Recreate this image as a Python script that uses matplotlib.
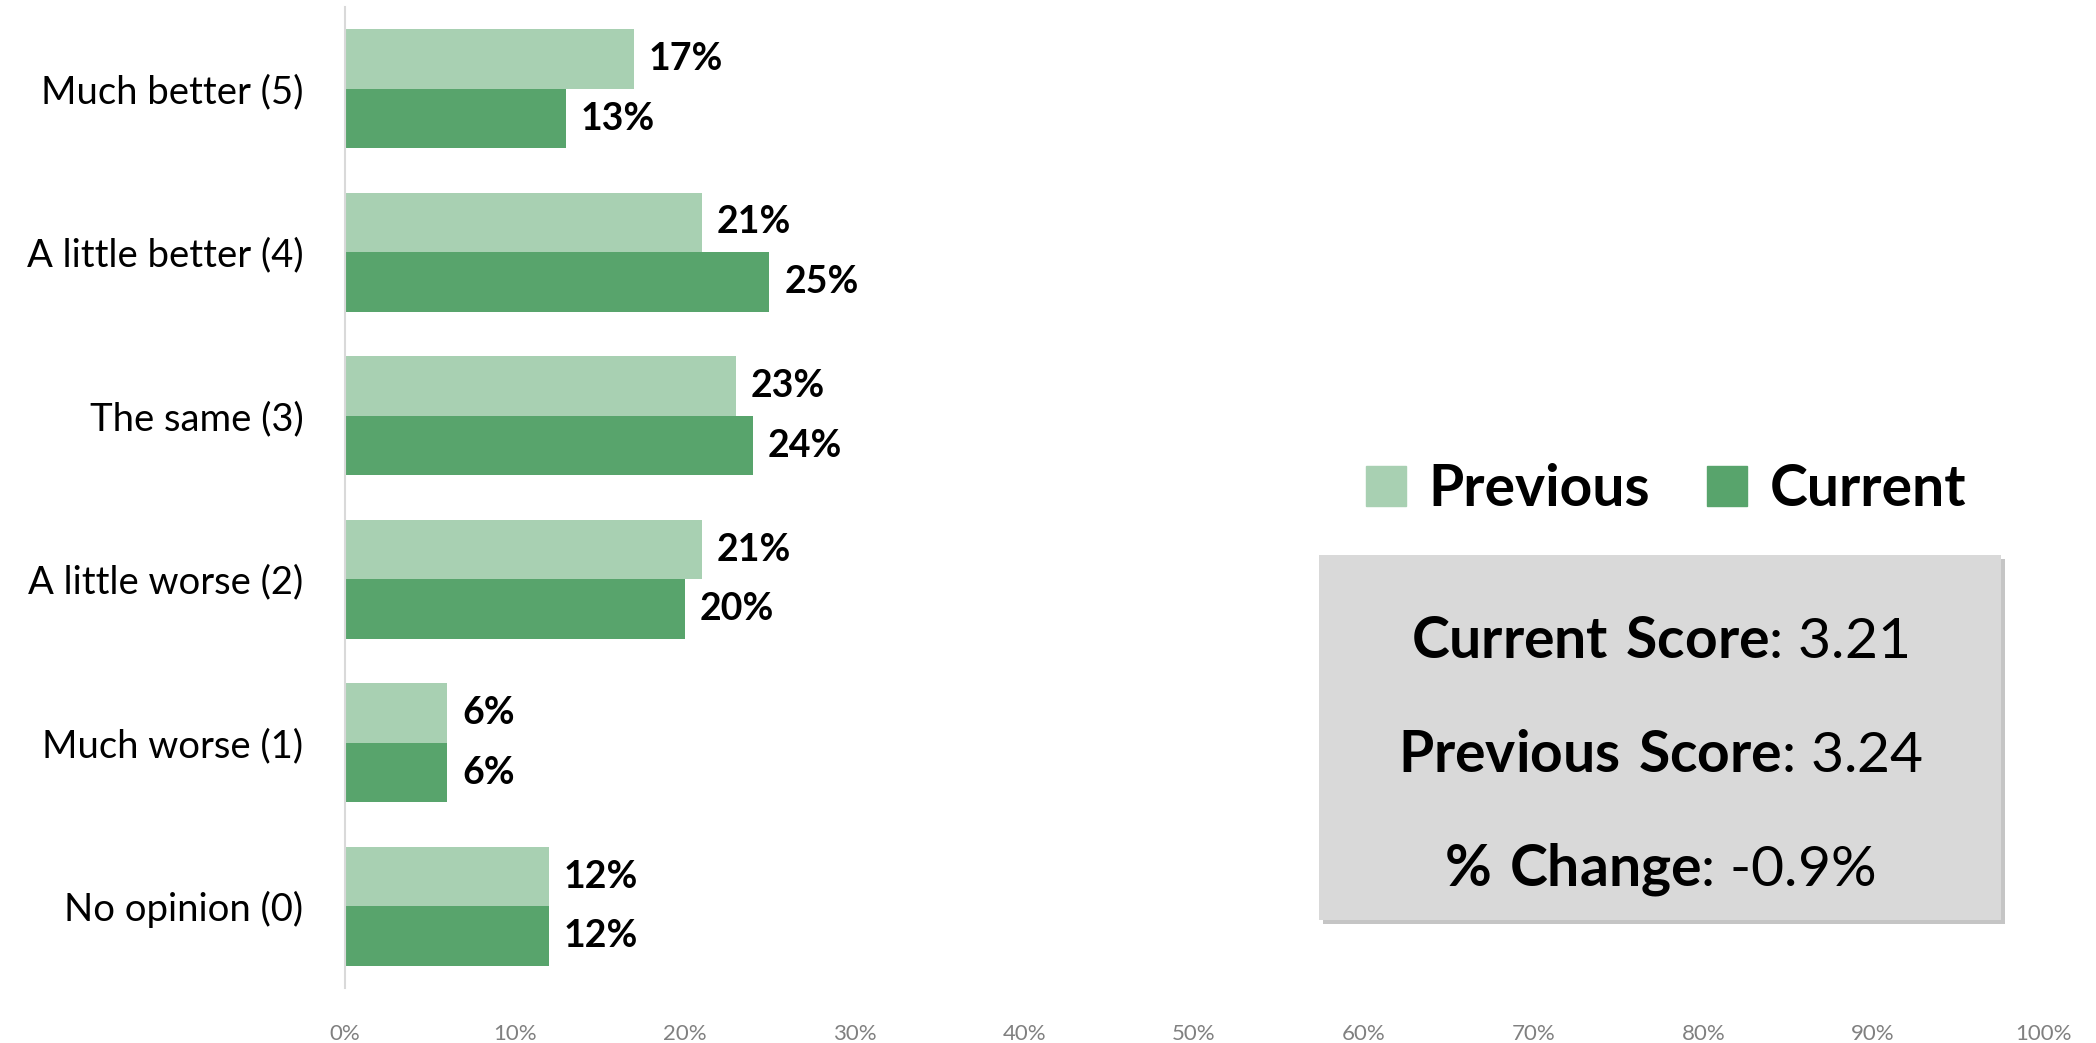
import matplotlib
matplotlib.use("Agg")
import matplotlib.pyplot as plt
import matplotlib.patheffects as pe
from matplotlib.patches import Rectangle, Patch
import numpy as np

plt.rcParams['font.family'] = ['Lato', 'DejaVu Sans']
plt.rcParams['mathtext.fontset'] = 'custom'
plt.rcParams['mathtext.rm'] = 'Lato'
plt.rcParams['mathtext.bf'] = 'Lato:bold'

# data, top to bottom
categories = ['Much better (5)', 'A little better (4)', 'The same (3)',
              'A little worse (2)', 'Much worse (1)', 'No opinion (0)']
previous = [17, 21, 23, 21, 6, 12]
current = [13, 25, 24, 20, 6, 12]
xticks = [0, 10, 20, 30, 40, 50, 60, 70, 80, 90, 100]

current_score = 3.21
previous_score = 3.24
pct_change = -0.9

c_prev = '#A8D0B2'
c_cur = '#58A46C'

fig = plt.figure(figsize=(20.96, 10.43), dpi=100)
ax = fig.add_axes([0.1646, 0.0527, 0.8101, 0.9406])

y = np.arange(len(categories))
h = 0.364
b1 = ax.barh(y - h / 2, previous, height=h, color=c_prev, label='Previous')
b2 = ax.barh(y + h / 2, current, height=h, color=c_cur, label='Current')
ax.bar_label(b1, labels=[f'{v}%' for v in previous], padding=11,
             fontsize=27, fontweight='bold')
ax.bar_label(b2, labels=[f'{v}%' for v in current], padding=11,
             fontsize=27, fontweight='bold')

ax.set_ylim(len(categories) - 0.5, -0.5)
ax.set_xlim(0, 100)
ax.set_yticks(y)
ax.set_yticklabels(categories, fontsize=27.5)
ax.set_xticks(xticks)
ax.set_xticklabels([f'{t}%' for t in xticks], fontsize=16, color='#808080')
ax.tick_params(axis='y', length=0, pad=30)
ax.tick_params(axis='x', length=0, pad=26)
for s in ['top', 'right', 'bottom']:
    ax.spines[s].set_visible(False)
ax.spines['left'].set_color('#D9D9D9')
ax.spines['left'].set_linewidth(1.5)

# legend
handles = [Patch(color=c_prev), Patch(color=c_cur)]
fig.legend(handles, ['Previous', 'Current'], loc='center',
           bbox_to_anchor=(0.795, 0.531), ncol=2, frameon=False,
           prop={'family': 'Lato', 'weight': 'bold', 'size': 41},
           handlelength=0.7, handleheight=0.7, handletextpad=0.4,
           columnspacing=1.0)

# score box
box = Rectangle((0.6293, 0.118), 0.3254, 0.35, transform=fig.transFigure,
                facecolor='#D9D9D9', edgecolor='none',
                path_effects=[pe.SimplePatchShadow(offset=(3, -3), shadow_rgbFace='#8C8C8C', alpha=0.5),
                              pe.Normal()])
fig.patches.append(box)
lines = [
    r'$\bf{Current\ Score}$: ' + f'{current_score:.2f}',
    r'$\bf{Previous\ Score}$: ' + f'{previous_score:.2f}',
    r'$\bf{\%\ Change}$: ' + f'{pct_change:.1f}%',
]
for i, txt in enumerate(lines):
    fig.text(0.792, 0.384 - i * 0.109, txt, ha='center', va='center', fontsize=41)

fig.savefig('out.png', dpi=100)
